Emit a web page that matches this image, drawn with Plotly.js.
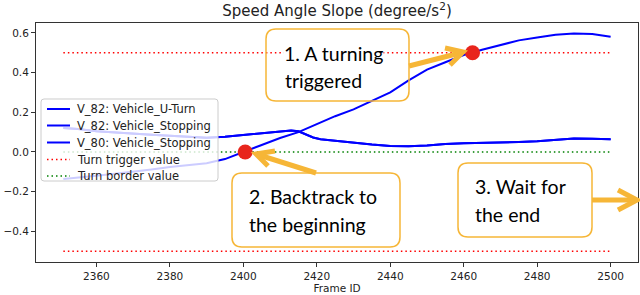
<!DOCTYPE html>
<html>
<head>
<meta charset="utf-8">
<script src="https://cdn.plot.ly/plotly-3.0.1.min.js"></script>
<style>html,body{margin:0;padding:0;background:#fff;}#chart{width:640px;height:295px;}</style>
</head>
<body>
<div id="chart"></div>
<script>
// ---- data ----
const uTurnFrames = [2351,2355,2360,2365,2370,2375,2380,2385,2390,2395,2400,2405,2410,2415,2420,2425,2430,2435,2440,2445,2450,2455,2460,2465,2470,2475,2480,2485,2490,2495,2500];
const uTurnValues = [-0.136,-0.13,-0.12,-0.11,-0.10,-0.088,-0.076,-0.066,-0.057,-0.036,-0.002,0.035,0.07,0.10,0.14,0.18,0.214,0.255,0.30,0.36,0.415,0.452,0.488,0.515,0.54,0.562,0.577,0.59,0.597,0.594,0.58];

const stopFrames = [2351,2355,2360,2365,2370,2375,2380,2385,2390,2395,2400,2405,2410,2413,2415,2417,2419,2421,2425,2430,2435,2440,2445,2450,2455,2460,2465,2470,2475,2480,2485,2490,2495,2500];
const v82StopValues = [0.12,0.115,0.104,0.097,0.091,0.086,0.081,0.076,0.072,0.077,0.086,0.095,0.104,0.108,0.104,0.087,0.073,0.064,0.056,0.046,0.037,0.03,0.028,0.032,0.04,0.044,0.045,0.047,0.05,0.054,0.06,0.068,0.066,0.064];
const v80StopValues = [0.12,0.115,0.104,0.097,0.091,0.086,0.081,0.076,0.072,0.077,0.086,0.095,0.104,0.108,0.104,0.087,0.073,0.064,0.056,0.046,0.037,0.03,0.028,0.032,0.04,0.044,0.045,0.047,0.05,0.054,0.06,0.068,0.066,0.064];

const refFrames = [2351, 2500];
const triggerValue = 0.5;
const borderValue = 0.0;

const markFrames = [2400.5, 2462.4];
const markValues = [0.0, 0.5];

const seriesNames = ['V_82: Vehicle_U-Turn','V_82: Vehicle_Stopping','V_80: Vehicle_Stopping','Turn trigger value','Turn border value'];
const xTicks = [2360,2380,2400,2420,2440,2460,2480,2500];
const yTicks = [-0.4,-0.2,0.0,0.2,0.4,0.6];
const titleText = 'Speed Angle Slope (degree/s<sup>2</sup>)';
const xTitle = 'Frame ID';
const notes = [
  ['1. A turning','triggered'],
  ['2. Backtrack to','the beginning'],
  ['3. Wait for','the end']
];

// ---- layout geometry (pixels) ----
const W = 640, H = 295;
const M = {l:36, r:2, t:23, b:33};
const PW = W - M.l - M.r, PH = H - M.t - M.b;
const px = x => (x - M.l) / PW;
const py = y => (H - M.b - y) / PH;

const ORANGE = '#F6B637';
const BLUE = '#0000ff';
const RED = '#ff0000', GREEN = '#008000';
const DOT = '1.5px,3px';

function roundRect(x0, y0, x1, y1, r) {
  const X = v => px(v).toFixed(5), Y = v => py(v).toFixed(5);
  return 'M' + X(x0 + r) + ',' + Y(y0) +
    ' L' + X(x1 - r) + ',' + Y(y0) +
    ' Q' + X(x1) + ',' + Y(y0) + ' ' + X(x1) + ',' + Y(y0 + r) +
    ' L' + X(x1) + ',' + Y(y1 - r) +
    ' Q' + X(x1) + ',' + Y(y1) + ' ' + X(x1 - r) + ',' + Y(y1) +
    ' L' + X(x0 + r) + ',' + Y(y1) +
    ' Q' + X(x0) + ',' + Y(y1) + ' ' + X(x0) + ',' + Y(y1 - r) +
    ' L' + X(x0) + ',' + Y(y0 + r) +
    ' Q' + X(x0) + ',' + Y(y0) + ' ' + X(x0 + r) + ',' + Y(y0) + ' Z';
}
function polyPath(pts) {
  return pts.map((p, i) => (i ? 'L' : 'M') + px(p[0]).toFixed(5) + ',' + py(p[1]).toFixed(5)).join(' ');
}

const shapes = [];
const annotations = [];

// ---- legend (drawn manually for matplotlib-like spacing) ----
const legendBox = [41, 99, 218, 181];
const legendRows = [109, 125.5, 142.5, 159.5, 176];
const legendStyles = [
  {color:BLUE, width:2, dash:'solid'},
  {color:BLUE, width:2, dash:'solid'},
  {color:BLUE, width:2, dash:'solid'},
  {color:RED, width:1.5, dash:DOT},
  {color:GREEN, width:1.5, dash:DOT}
];
shapes.push({type:'path', xref:'paper', yref:'paper', path: roundRect(legendBox[0], legendBox[1], legendBox[2], legendBox[3], 3),
  line:{color:'#cccccc', width:1}, fillcolor:'rgba(255,255,255,0.8)', layer:'above'});
seriesNames.forEach((n, i) => {
  shapes.push({type:'line', xref:'paper', yref:'paper', x0:px(47), x1:px(70), y0:py(legendRows[i]), y1:py(legendRows[i]),
    line:legendStyles[i], layer:'above'});
  annotations.push({xref:'paper', yref:'paper', x:px(76), y:py(legendRows[i]), xanchor:'left', yanchor:'middle', text:n,
    showarrow:false, font:{family:'DejaVu Sans', size:11.5, color:'#222'}, borderpad:0});
});

// ---- callout boxes and arrows ----
const boxes = [[266,29,409,101],[232,173,400,247],[458,163,592,237]];
const arrows = [
  {shaft:[[409,66],[460,53]], head:[[445,48],[463,52],[450,65]]},
  {shaft:[[316,173],[259,155]], head:[[275,151],[256,154],[268,166]]},
  {shaft:[[592,200],[634,200]], head:[[618,190],[637,200],[618,210]]}
];
boxes.forEach(b => shapes.push({type:'path', xref:'paper', yref:'paper', path: roundRect(b[0],b[1],b[2],b[3],10), line:{color:ORANGE, width:1.5}, fillcolor:'rgba(0,0,0,0)', layer:'above'}));
arrows.forEach(a => {
  shapes.push({type:'path', xref:'paper', yref:'paper', path: polyPath(a.shaft), line:{color:ORANGE, width:5}, layer:'above'});
  shapes.push({type:'path', xref:'paper', yref:'paper', path: polyPath(a.head), line:{color:ORANGE, width:5}, layer:'above'});
});

const textPos = [
  [[283,53,true],[284,80,false]],
  [[248,196,false],[248,224,false]],
  [[474,186,false],[474,214,false]]
];
notes.forEach((lines, i) => {
  lines.forEach((t, j) => {
    const p = textPos[i][j];
    annotations.push({xref:'paper', yref:'paper', x:px(p[0]), y:py(p[1]), xanchor:'left', yanchor:'middle',
      text:t, showarrow:false, font:{family:'Lato', size:19.5, color:'#000'},
      bgcolor: p[2] ? '#ffffff' : 'rgba(0,0,0,0)', borderpad:0});
  });
});

const traces = [
  {x:uTurnFrames, y:uTurnValues, name:seriesNames[0], mode:'lines', line:{color:BLUE, width:2}},
  {x:stopFrames, y:v82StopValues, name:seriesNames[1], mode:'lines', line:{color:BLUE, width:2}},
  {x:stopFrames, y:v80StopValues, name:seriesNames[2], mode:'lines', line:{color:BLUE, width:2}},
  {x:[refFrames[0], refFrames[1], null, refFrames[0], refFrames[1]], y:[triggerValue, triggerValue, null, -triggerValue, -triggerValue],
   name:seriesNames[3], mode:'lines', line:{color:RED, width:1.5, dash:DOT}},
  {x:refFrames, y:[borderValue, borderValue], name:seriesNames[4], mode:'lines', line:{color:GREEN, width:1.5, dash:DOT}},
  {x:markFrames, y:markValues, mode:'markers', showlegend:false, marker:{color:'#E8251C', size:15}}
];

const axisCommon = {showline:true, mirror:true, linecolor:'#333', linewidth:1, ticks:'outside', ticklen:4, tickwidth:1, tickcolor:'#333',
  showgrid:false, zeroline:false, tickfont:{family:'DejaVu Sans', size:10.5, color:'#222'}};

const layout = {
  width:W, height:H, margin:M, paper_bgcolor:'#fff', plot_bgcolor:'#fff',
  title:{text:titleText, x:0.5, xref:'paper', y:1 - 11/H, yref:'container', yanchor:'middle', font:{family:'DejaVu Sans', size:15, color:'#222'}},
  xaxis:Object.assign({}, axisCommon, {range:[2343.55, 2507.45], tickvals:xTicks, ticktext:xTicks.map(String),
    title:{text:xTitle, standoff:2, font:{family:'DejaVu Sans', size:10.5, color:'#222'}}}),
  yaxis:Object.assign({}, axisCommon, {range:[-0.5545, 0.6495], tickvals:yTicks, ticktext:yTicks.map(v => (v < 0 ? '\u2212' : '') + Math.abs(v).toFixed(1))}),
  showlegend:false,
  shapes:shapes, annotations:annotations
};

Plotly.newPlot('chart', traces, layout, {displayModeBar:false, staticPlot:true});
</script>
</body>
</html>
